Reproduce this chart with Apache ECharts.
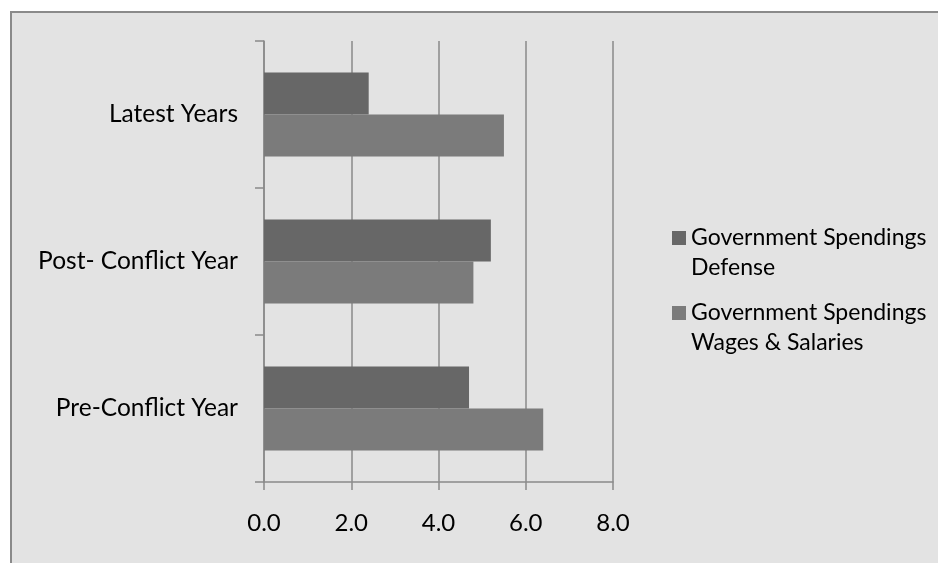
<!DOCTYPE html>
<html>
    <head>
        <meta charset="utf-8">
        <script src="https://cdn.jsdelivr.net/npm/echarts@6/dist/echarts.min.js"></script>
        <style>
            body { margin: 0; background: #fff; }
            #chart {
                position: absolute; left: 10px; top: 11px;
                width: 926px; height: 550px;
                border-left: 2px solid #8a8a8a; border-top: 2px solid #8a8a8a;
                background: #e3e3e3;
            }
        </style>
    </head>
    <body>
    <div id="chart"></div>
    <script>
        // categories from bottom to top
        let categories = ['Pre-Conflict Year', 'Post- Conflict Year', 'Latest Years'];
        let defense = [4.7, 5.2, 2.4];
        let wages = [6.4, 4.8, 5.5];
        let xTicks = [0, 2, 4, 6, 8];
        let seriesNames = ['Government Spendings\nDefense', 'Government Spendings\nWages & Salaries'];

        let font = 'Lato';
        let gray = '#8a8a8a';

        function legendAt(name, top) {
            return {
                data: [name],
                left: 660,
                top: top,
                padding: 0,
                icon: 'rect',
                itemWidth: 14,
                itemHeight: 14,
                itemGap: 6,
                selectedMode: false,
                // blank first line keeps the square beside the first text line
                formatter: function (n) { return '\n' + n; },
                textStyle: {fontFamily: font, fontSize: 23, color: '#000', lineHeight: 30}
            };
        }

        option = {
            animation: false,
            backgroundColor: '#e3e3e3',
            grid: {left: 252, right: 325, top: 28, bottom: 81},
            legend: [legendAt(seriesNames[0], 180), legendAt(seriesNames[1], 255)],
            xAxis: {
                type: 'value',
                min: xTicks[0],
                max: xTicks[xTicks.length - 1],
                interval: 2,
                axisLine: {show: true, lineStyle: {color: gray, width: 1.5}},
                axisTick: {show: true, length: 8, lineStyle: {color: gray, width: 1.5}},
                splitLine: {show: true, lineStyle: {color: gray, width: 1.5}},
                axisLabel: {
                    margin: 29, color: '#000', fontFamily: font, fontSize: 24,
                    formatter: function (v) { return v.toFixed(1); }
                }
            },
            yAxis: {
                type: 'category',
                data: categories,
                axisLine: {show: true, lineStyle: {color: gray, width: 1.5}},
                axisTick: {show: true, length: 9, lineStyle: {color: gray, width: 1.5}},
                axisLabel: {margin: 26, color: '#000', fontFamily: font, fontSize: 24.5}
            },
            series: [
                {
                    name: seriesNames[0], type: 'bar', data: defense,
                    barGap: '0%', barCategoryGap: '43%',
                    itemStyle: {color: '#676767'}
                },
                {
                    name: seriesNames[1], type: 'bar', data: wages,
                    barGap: '0%', barCategoryGap: '43%',
                    itemStyle: {color: '#7b7b7b'}
                }
            ]
        };
        myChart = echarts.init(document.getElementById('chart'));
        myChart.setOption(option);
    </script>
    </body>
</html>
